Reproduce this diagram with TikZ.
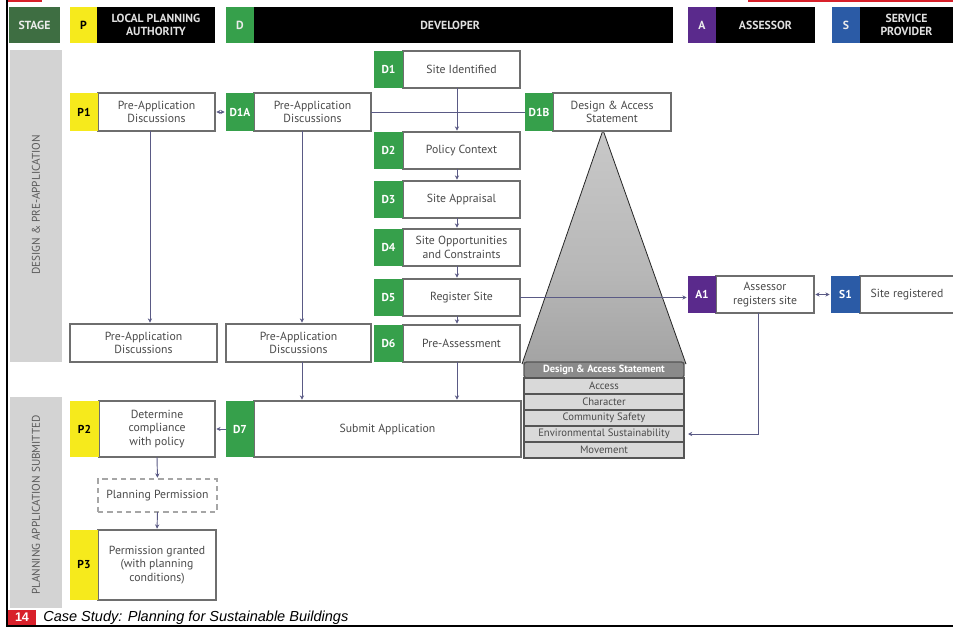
\documentclass[tikz,border=0pt]{standalone}
\usepackage{fontspec}
\setmainfont{PT Sans}
\newfontfamily\footfont{Liberation Sans}
\usetikzlibrary{arrows.meta,calc}
\definecolor{stagegreen}{HTML}{3E6E42}
\definecolor{dgreen}{HTML}{36A04B}
\definecolor{pyellow}{HTML}{F6EA1C}
\definecolor{apurple}{HTML}{5A2A8C}
\definecolor{sblue}{HTML}{2B5BA6}
\definecolor{panel}{HTML}{D3D3D3}
\definecolor{conncol}{HTML}{5A5A85}
\definecolor{boxline}{HTML}{6E6E6E}
\definecolor{txt}{HTML}{4A4A4A}
\definecolor{redbar}{HTML}{D8202A}
\definecolor{tabrow}{HTML}{D9D9D9}
\definecolor{tabhead}{HTML}{8A8A8A}
\definecolor{tabline}{HTML}{555555}
\pgfdeclareverticalshading{trishade}{100bp}{color(0bp)=(black!85); color(5bp)=(black!78); color(20bp)=(black!38); color(45bp)=(black!28); color(100bp)=(black!16)}
\newcommand\rb[7][]{\node[anchor=north west, inner sep=0pt, outer sep=0pt, minimum width={(#5-#3)*0.75pt}, minimum height={(#6-#4)*0.75pt}, #1] (#2) at (#3,#4) {#7};}
\tikzset{
  hdr/.style={fill=black, text=white!88!black, font=\fontsize{8.8}{9.6}\selectfont\bfseries, align=center},
  hkey/.style={font=\fontsize{8.8}{9.6}\selectfont\bfseries, text=white!92!black},
  tag/.style={font=\fontsize{8.6}{9}\selectfont\bfseries, text=white},
  ptag/.style={tag, fill=pyellow, text=black},
  dtag/.style={tag, fill=dgreen},
  body/.style={draw=boxline, fill=white, line width=0.8pt, align=center, text=txt, font=\fontsize{8.8}{10.2}\selectfont},
  dbody/.style={body, draw=gray!70, dashed, dash pattern=on 4pt off 3pt},
  side/.style={rotate=90, text=black!65, font=\fontsize{8.4}{9}\selectfont},
  trow/.style={fill=tabrow, draw=tabline, line width=1pt, text=txt, font=\fontsize{8}{9}\selectfont},
  thead/.style={fill=tabhead, draw=tabline, line width=1pt, text=white, font=\fontsize{7.8}{9}\selectfont\bfseries},
  conn/.style={draw=conncol, line width=0.7pt},
  arr/.style={conn, -{Stealth[length=3.2pt,width=3.2pt]}, shorten >=1pt},
  barr/.style={conn, {Stealth[length=3.2pt,width=3.2pt]}-{Stealth[length=3.2pt,width=3.2pt]}, shorten >=1pt, shorten <=1pt}
}
\begin{document}
\begin{tikzpicture}[x=0.75pt,y=-0.75pt]
\useasboundingbox (0,0) rectangle (953,627);
\fill[white] (0,0) rectangle (953,627);
% frame
\fill[redbar] (8,0) rectangle (42,2.5);
\fill[redbar] (748,0) rectangle (953,2.5);
\draw[line width=1.6pt] (7,0) -- (7,627);
\draw[line width=1.2pt] (6,626) -- (953,626);
% header
\rb[fill=stagegreen, hkey]{hstage}{9}{7}{60}{43}{STAGE}
\rb[fill=pyellow, hkey, text=black]{hp}{70}{7}{97}{43}{P}
\rb[hdr]{hpl}{97}{7}{215}{43}{LOCAL PLANNING\\AUTHORITY}
\rb[fill=dgreen, hkey]{hd}{226}{7}{254}{43}{D}
\rb[hdr]{hdl}{254}{7}{673}{43}{\hspace*{-20pt}DEVELOPER}
\rb[fill=apurple, hkey]{ha}{688}{7}{716}{43}{A}
\rb[hdr]{hal}{716}{7}{815}{43}{ASSESSOR}
\rb[fill=sblue, hkey]{hs}{832}{7}{860}{43}{S}
\rb[hdr]{hsl}{860}{7}{953}{43}{SERVICE\\PROVIDER}
% stage panels
\rb[fill=panel]{pan1}{10}{50}{62}{362}{}
\rb[fill=panel]{pan2}{10}{397}{62}{608}{}
\node[side] (lab1) at (36,205) {DESIGN \& PRE-APPLICATION};
\node[side] (lab2) at (36,505) {PLANNING APPLICATION SUBMITTED};
% triangle
\shade[shading=trishade] (603,130) -- (686,364) -- (522,364) -- cycle;
\draw[black!85, line width=0.6pt] (522,364) -- (603,130) -- (686,364);
% table
\rb[thead, rounded corners=2pt]{th}{524}{362}{684}{378}{Design \& Access Statement}
\rb[trow]{tacc}{524}{378}{684}{394}{Access}
\rb[trow]{tchar}{524}{394}{684}{410}{Character}
\rb[trow]{tcom}{524}{410}{684}{426}{Community Safety}
\rb[trow]{tenv}{524}{426}{684}{442}{Environmental Sustainability}
\rb[trow]{tmov}{524}{442}{684}{458}{Movement}
% steps
\rb[body]{p1b}{98}{93}{215}{131}{Pre-Application\\Discussions}
\rb[ptag]{p1t}{70}{93}{98}{131}{P1}
\rb[body]{d1ab}{254}{93}{371}{131}{Pre-Application\\Discussions}
\rb[dtag]{d1at}{226}{93}{254}{131}{D1A}
\rb[body]{d1b}{403}{51}{520}{88}{Site Identified}
\rb[dtag]{d1t}{374}{51}{403}{88}{D1}
\rb[body]{d1bb}{553}{93}{671}{131}{Design \& Access\\Statement}
\rb[dtag]{d1bt}{525}{93}{553}{131}{D1B}
\rb[body]{d2b}{403}{132}{520}{169}{Policy Context}
\rb[dtag]{d2t}{374}{132}{403}{169}{D2}
\rb[body]{d3b}{403}{181}{520}{218}{Site Appraisal}
\rb[dtag]{d3t}{374}{181}{403}{218}{D3}
\rb[body]{d4b}{403}{229}{520}{266}{Site Opportunities\\and Constraints}
\rb[dtag]{d4t}{374}{229}{403}{266}{D4}
\rb[body]{d5b}{403}{279}{520}{316}{Register Site}
\rb[dtag]{d5t}{374}{279}{403}{316}{D5}
\rb[body]{d6b}{403}{325}{520}{362}{Pre-Assessment}
\rb[dtag]{d6t}{374}{325}{403}{362}{D6}
\rb[body]{pad1}{70}{324}{217}{362}{Pre-Application\\Discussions}
\rb[body]{pad2}{226}{324}{371}{362}{Pre-Application\\Discussions}
\rb[body]{d7b}{254}{401}{521}{457}{Submit Application}
\rb[dtag]{d7t}{226}{401}{254}{457}{D7}
\rb[body]{p2b}{99}{401}{215}{457}{Determine\\compliance\\with policy}
\rb[ptag]{p2t}{70}{401}{99}{457}{P2}
\rb[dbody]{pp}{98}{479}{217}{512}{Planning Permission}
\rb[body]{p3b}{98}{530}{216}{600}{Permission granted\\(with planning\\conditions)}
\rb[ptag]{p3t}{70}{530}{98}{600}{P3}
\rb[body]{a1b}{716}{276}{814}{313}{Assessor\\registers site}
\rb[tag, fill=apurple]{a1t}{688}{276}{716}{313}{A1}
\rb[body]{s1b}{860}{276}{954}{313}{Site registered}
\rb[tag, fill=sblue]{s1t}{831}{276}{860}{313}{S1}
% footer
\rb[fill=redbar, text=white, font=\footfont\bfseries\fontsize{9.4}{10}\selectfont]{pgno}{8}{610}{36}{625}{14}
\node[anchor=west, inner sep=0pt, font=\footfont\itshape\fontsize{10.9}{12}\selectfont] (foot) at (43,617.5) {Case Study: Planning for Sustainable Buildings};
% connectors
\draw[barr] (p1b.east) -- (d1at.west);
\draw[conn] (d1ab.east) -- (d1bt.west);
\draw[arr] ([xshift=-3.4pt]d1b.south) -- ([xshift=-3.4pt]d2b.north);
\draw[arr] ([xshift=-3.4pt]d2b.south) -- ([xshift=-3.4pt]d3b.north);
\draw[arr] ([xshift=-3.4pt]d3b.south) -- ([xshift=-3.4pt]d4b.north);
\draw[arr] ([xshift=-3.4pt]d4b.south) -- ([xshift=-3.4pt]d5b.north);
\draw[arr] ([xshift=-3.4pt]d5b.south) -- ([xshift=-3.4pt]d6b.north);
\draw[arr] ([xshift=-3.4pt]d6b.south) -- ([xshift=-3.4pt]d6b.south |- d7b.north);
\draw[arr] ([xshift=-4.9pt]p1b.south) -- ([xshift=-4.9pt]p1b.south |- pad1.north);
\draw[arr] ([xshift=2.6pt]pad2.north |- d1ab.south) -- ([xshift=2.6pt]pad2.north);
\draw[arr] ([xshift=2.6pt]pad2.south) -- ([xshift=2.6pt]pad2.south |- d7b.north);
\draw[arr] (d5b.east) -- (d5b.east -| a1t.west);
\draw[barr] (a1b.east) -- (s1t.west);
\draw[arr, shorten >=3pt] ([xshift=-5.2pt]a1b.south) |- (tenv.east);
\draw[arr] (d7t.west) -- (p2b.east);
\draw[arr] (p2b.south) -- (pp.north);
\draw[arr] (pp.south) -- (p3b.north);
\end{tikzpicture}
\end{document}
